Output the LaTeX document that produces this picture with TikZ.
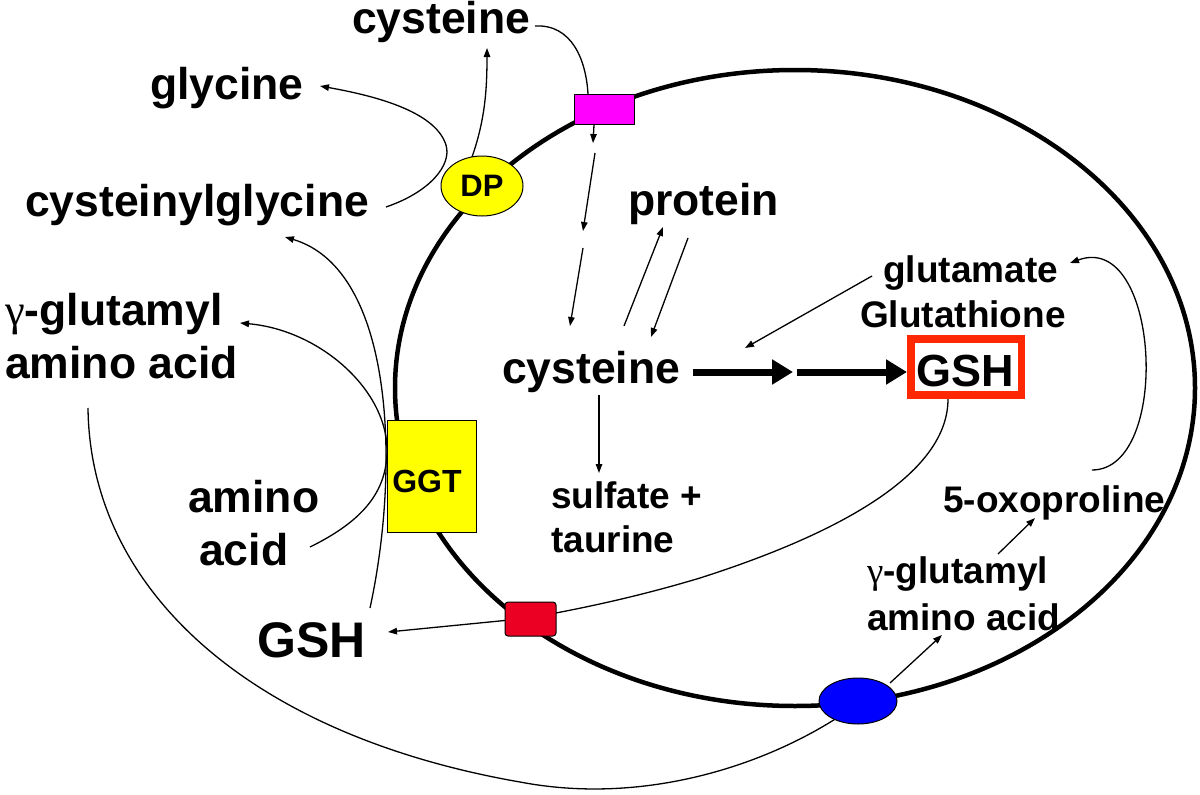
\documentclass[tikz,border=0pt]{standalone}
\usepackage{fontspec}
\setmainfont{Liberation Sans}
\newfontfamily\serifg{Liberation Serif}
\usetikzlibrary{arrows.meta,shapes.geometric}
\pgfdeclarelayer{bg}
\pgfsetlayers{bg,main}
\definecolor{gshred}{RGB}{255,40,0}
\definecolor{chred}{RGB}{235,0,35}
\definecolor{pinkt}{RGB}{255,0,255}
\definecolor{yelt}{RGB}{255,255,0}
\definecolor{bluet}{RGB}{0,0,255}
\begin{document}
\begin{tikzpicture}[x=1pt,y=-1pt,
  lab/.style={anchor=base west, inner sep=0pt, font=\bfseries\fontsize{44.5}{50}\selectfont},
  labm/.style={anchor=base west, inner sep=0pt, font=\bfseries\fontsize{37}{42}\selectfont},
  flow/.style={line width=1.3pt, -{Triangle[length=9pt,width=6.5pt]}},
  plain/.style={line width=1.3pt},
  thick arrow/.style={line width=7pt, -{Triangle[length=21pt,width=24pt]}},
  shapebox/.style={draw, line width=1pt, inner sep=0pt}
]
\useasboundingbox (0,0) rectangle (1200,795);
% membrane
\draw[line width=4.5pt] (795,388) ellipse [x radius=400pt, y radius=318pt];

% transporters / enzymes
\node[shapebox, fill=pinkt, minimum width=60pt, minimum height=30pt] (pink) at (604,109) {};
\node[shapebox, ellipse, fill=yelt, minimum width=82pt, minimum height=60pt,
      font=\bfseries\fontsize{31}{34}\selectfont] (dp) at (482,186) {DP};
\node[shapebox, fill=yelt, minimum width=89pt, minimum height=112pt] (ggt) at (431.5,476) {};
\node[anchor=base, inner sep=0pt, font=\bfseries\fontsize{32}{36}\selectfont] (ggttxt) at (427,492) {GGT};
\node[shapebox, fill=chred, rounded corners=3pt, minimum width=51pt, minimum height=34pt] (redt) at (530.5,619) {};
\node[shapebox, ellipse, fill=bluet, minimum width=78pt, minimum height=46pt] (bluet) at (858,701) {};

% labels
\node[lab] (cysT) at (352,33) {cysteine};
\node[lab] (gly) at (150,99) {glycine};
\node[lab] (cysgly) at (25,216) {cysteinylglycine};
\node[lab] (ggluL) at (5,325) {{\serifg\mdseries γ}-glutamyl};
\node[lab] (aaL) at (5,378) {amino acid};
\node[lab] (prot) at (628,215) {protein};
\node[lab] (cysM) at (502,383) {cysteine};
\node[labm] (sulf) at (551,508) {sulfate +};
\node[labm] (taur) at (551,552) {taurine};
\node[labm] (glut) at (883,282) {glutamate};
\node[labm] (glutathione) at (860,327) {Glutathione};
\node[draw=gshred, line width=7.5pt, minimum width=110.5pt, minimum height=56pt, inner sep=0pt] (gsh) at (966,367) {};
\node[anchor=base, inner sep=0pt, font=\bfseries\fontsize{45}{50}\selectfont] (gshtxt) at (965,386) {GSH};
\node[labm] (oxo) at (943,512) {5-oxoproline};
\node[labm] (ggluR) at (867,583) {{\serifg\mdseries γ}-glutamyl};
\node[labm] (aaR) at (867,630) {amino acid};
\node[lab] (amino) at (188,512) {amino};
\node[lab] (acid) at (199,565) {acid};
\node[anchor=base west, inner sep=0pt, font=\bfseries\fontsize{50}{56}\selectfont] (gshB) at (257,657) {GSH};

% connector end points
\coordinate (p1) at (535,26);
\coordinate (p2) at (588,94);
\coordinate (p3) at (594,125);
\coordinate (p4) at (593,143);
\coordinate (p5) at (595,153);
\coordinate (p6) at (583,231);
\coordinate (p7) at (583,248);
\coordinate (p8) at (570,326);
\coordinate (p9) at (624,326);
\coordinate (p10) at (663,227);
\coordinate (p11) at (688,238);
\coordinate (p12) at (651,337);
\coordinate (p13) at (599,395);
\coordinate (p14) at (599,473);
\coordinate (p15) at (693,372);
\coordinate (p16) at (793,372);
\coordinate (p17) at (797,372);
\coordinate (p18) at (907,372);
\coordinate (p19) at (872,276);
\coordinate (p20) at (745,348);
\coordinate (p21) at (948,399);
\coordinate (p22) at (388,632);
\coordinate (p23) at (1092,470);
\coordinate (p24) at (1070,263);
\coordinate (p25) at (998,554);
\coordinate (p26) at (1035,518);
\coordinate (p27) at (890,683);
\coordinate (p28) at (942,635);
\coordinate (p29) at (88,408);
\coordinate (p30) at (840,716);
\coordinate (p31) at (370,608);
\coordinate (p32) at (285,237);
\coordinate (p33) at (310,547);
\coordinate (p34) at (240,323);
\coordinate (p35) at (386,207);
\coordinate (p36) at (320,86);
\coordinate (p37) at (472,157);
\coordinate (p38) at (487,48);

\begin{pgfonlayer}{bg}
\draw[plain] (p1) .. controls (572,24) and (586,60) .. (p2);
\draw[flow] (p3) -- (p4);
\draw[flow] (p5) -- (p6);
\draw[flow] (p7) -- (p8);
\draw[flow] (p9) -- (p10);
\draw[flow] (p11) -- (p12);
\draw[flow] (p13) -- (p14);
\draw[thick arrow] (p15) -- (p16);
\draw[thick arrow] (p17) -- (p18);
\draw[flow] (p19) -- (p20);
\draw[flow] (p21) .. controls (948,470) and (850,530) .. (700,578)
   .. controls (620,602) and (560,612) .. (530,618) -- (p22);
\draw[flow] (p23) .. controls (1172,470) and (1160,230) .. (p24);
\draw[flow] (p25) -- (p26);
\draw[flow] (p27) -- (p28);
\draw[plain] (p29) .. controls (90,590) and (250,735) .. (520,782)
   .. controls (640,805) and (760,768) .. (p30);
\draw[flow] (p31) .. controls (400,470) and (395,270) .. (p32);
\draw[flow] (p33) .. controls (365,520) and (387,490) .. (387,450)
   .. controls (387,390) and (320,330) .. (p34);
\draw[flow] (p35) .. controls (430,192) and (452,165) .. (446,145)
   .. controls (435,110) and (370,95) .. (p36);
\draw[flow] (p37) .. controls (485,120) and (487,90) .. (p38);
\end{pgfonlayer}
\end{tikzpicture}
\end{document}
